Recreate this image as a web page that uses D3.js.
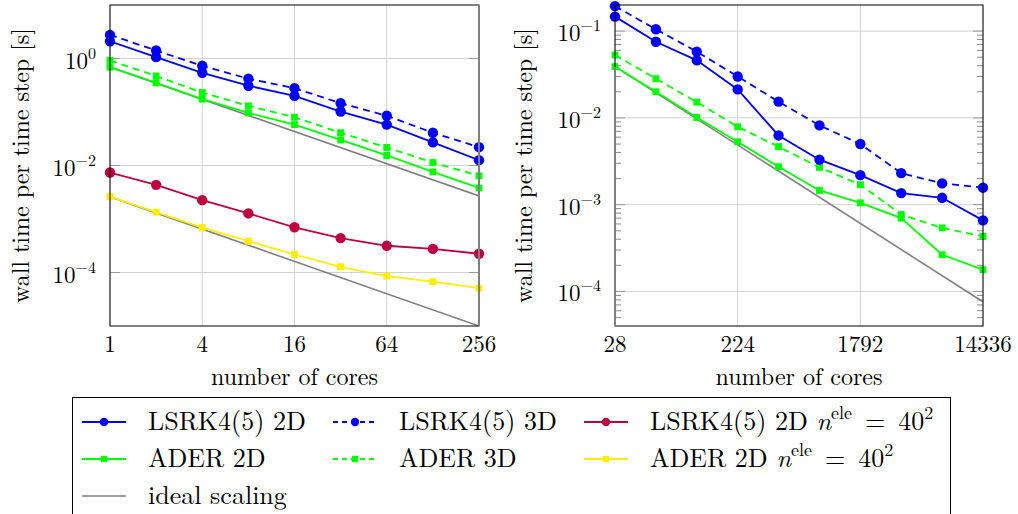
<!DOCTYPE html>
<html>
<head>
<meta charset="utf-8">
<script src="https://cdn.jsdelivr.net/npm/d3@7"></script>
<style>
    body { margin: 0; background: #fff; }
</style>
</head>
<body>
<svg id="chart" width="1018" height="514"></svg>
<script>
// left panel: 2D / 3D runs on up to 256 cores
const coresLeft = [1, 2, 4, 8, 16, 32, 64, 128, 256];
const lsrk2dLeft = [2.1, 1.06, 0.54, 0.31, 0.20, 0.102, 0.058, 0.027, 0.0126];
const lsrk3dLeft = [2.77, 1.41, 0.73, 0.42, 0.279, 0.146, 0.085, 0.041, 0.022];
const ader2dLeft = [0.69, 0.35, 0.174, 0.096, 0.058, 0.030, 0.0154, 0.0076, 0.0038];
const ader3dLeft = [0.92, 0.47, 0.231, 0.130, 0.080, 0.041, 0.0217, 0.0114, 0.0064];
const lsrkSmallLeft = [0.0074, 0.00435, 0.00225, 0.00127, 0.00070, 0.00044, 0.000316, 0.000277, 0.000224];
const aderSmallLeft = [0.0026, 0.00134, 0.00069, 0.000385, 0.000217, 0.000128, 0.0000853, 0.0000675, 0.0000509];
const idealLeftA = [[1, 0.69], [256, 0.0027]];
const idealLeftB = [[1, 0.0026], [256, 0.00001]];

// right panel: large runs, 28 .. 14336 cores
const coresRight = [28, 56, 112, 224, 448, 896, 1792, 3584, 7168, 14336];
const lsrk2dRight = [0.147, 0.0755, 0.046, 0.0213, 0.00628, 0.0033, 0.00219, 0.00136, 0.00120, 0.00066];
const lsrk3dRight = [0.194, 0.105, 0.058, 0.030, 0.0154, 0.0082, 0.0050, 0.00231, 0.00176, 0.00157];
const ader2dRight = [0.039, 0.020, 0.0101, 0.0053, 0.00274, 0.00146, 0.00105, 0.00070, 0.000265, 0.000178];
const ader3dRight = [0.053, 0.0283, 0.0152, 0.0079, 0.00466, 0.00269, 0.0017, 0.00077, 0.00054, 0.00043];
const idealRight = [[28, 0.039], [14336, 0.000076]];

const xTicksLeft = [1, 4, 16, 64, 256];
const yTicksLeft = [1, 0.01, 0.0001];
const xTicksRight = [28, 224, 1792, 14336];
const yTicksRight = [0.1, 0.01, 0.001, 0.0001];

const legendLabels = [
    'LSRK4(5) 2D', 'LSRK4(5) 3D', 'LSRK4(5) 2D n=40',
    'ADER 2D', 'ADER 3D', 'ADER 2D n=40',
    'ideal scaling'
];

const BLUE = '#0000ff', GREEN = '#00ff00', PURPLE = '#bf0040', YELLOW = '#ffee00', GRAY = '#808080';
const FONT = 'Latin Modern Roman';

const styles = {
    lsrk2d: {color: BLUE, dash: null, mark: 'circle'},
    lsrk3d: {color: BLUE, dash: '7,5', mark: 'circle'},
    lsrkSmall: {color: PURPLE, dash: null, mark: 'circle'},
    ader2d: {color: GREEN, dash: null, mark: 'square'},
    ader3d: {color: GREEN, dash: '7,5', mark: 'square'},
    aderSmall: {color: YELLOW, dash: null, mark: 'square'},
    ideal: {color: GRAY, dash: null, mark: null}
};

const svg = d3.select('#chart');

function drawMark(g, style, x, y, r) {
    if (style.mark === 'circle') {
        g.append('circle').attr('cx', x).attr('cy', y).attr('r', r).attr('fill', style.color);
    } else if (style.mark === 'square') {
        g.append('rect').attr('x', x - r * 0.75).attr('y', y - r * 0.75)
            .attr('width', r * 1.5).attr('height', r * 1.5).attr('fill', style.color);
    }
}

function powLabel(sel, v) {
    let e = Math.round(Math.log10(v));
    sel.append('tspan').text('10');
    sel.append('tspan').attr('dy', -10).attr('font-size', 16).text(e < 0 ? '\u2212' + (-e) : '' + e);
}

function drawPanel(cfg) {
    let x = d3.scaleLog().base(2).domain(cfg.xDomain).range([cfg.left, cfg.right]);
    let y = d3.scaleLog().domain(cfg.yDomain).range([cfg.bottom, cfg.top]);
    let g = svg.append('g');
    let clipId = 'clip' + cfg.id;

    g.append('clipPath').attr('id', clipId).append('rect')
        .attr('x', cfg.left).attr('y', cfg.top)
        .attr('width', cfg.right - cfg.left).attr('height', cfg.bottom - cfg.top);

    // grid
    g.selectAll('.vgrid').data(cfg.xTicks).enter().append('line')
        .attr('x1', d => x(d)).attr('x2', d => x(d))
        .attr('y1', cfg.top).attr('y2', cfg.bottom)
        .attr('stroke', '#d2d2d2').attr('stroke-width', 1);
    g.selectAll('.hgrid').data(cfg.yTicks).enter().append('line')
        .attr('x1', cfg.left).attr('x2', cfg.right)
        .attr('y1', d => y(d)).attr('y2', d => y(d))
        .attr('stroke', '#d2d2d2').attr('stroke-width', 1);

    // minor ticks on the y axis (only right panel)
    if (cfg.minor) {
        let minor = [];
        for (let e = -6; e < 2; e++) {
            for (let m = 2; m < 10; m++) {
                let v = m * Math.pow(10, e);
                if (v > cfg.yDomain[0] && v < cfg.yDomain[1]) minor.push(v);
            }
        }
        [[cfg.left, 1], [cfg.right, -1]].forEach(([ex, dir]) => {
            g.selectAll(null).data(minor).enter().append('line')
                .attr('x1', ex).attr('x2', ex + dir * 6)
                .attr('y1', d => y(d)).attr('y2', d => y(d))
                .attr('stroke', '#8a8a8a').attr('stroke-width', 1);
        });
    }
    // major ticks
    [[cfg.left, 1], [cfg.right, -1]].forEach(([ex, dir]) => {
        g.selectAll(null).data(cfg.yTicks).enter().append('line')
            .attr('x1', ex).attr('x2', ex + dir * 10)
            .attr('y1', d => y(d)).attr('y2', d => y(d))
            .attr('stroke', '#999').attr('stroke-width', 1);
    });

    let line = d3.line().x(d => x(d[0])).y(d => y(d[1]));
    let plot = g.append('g').attr('clip-path', `url(#${clipId})`);

    cfg.ideal.forEach(pts => {
        plot.append('path').attr('d', line(pts)).attr('fill', 'none')
            .attr('stroke', GRAY).attr('stroke-width', 1.6);
    });

    cfg.series.forEach(s => {
        let st = styles[s.key];
        let pts = cfg.cores.map((c, i) => [c, s.values[i]]);
        plot.append('path').attr('d', line(pts)).attr('fill', 'none')
            .attr('stroke', st.color).attr('stroke-width', 1.8)
            .attr('stroke-dasharray', st.dash);
    });
    cfg.series.forEach(s => {
        let st = styles[s.key];
        let mg = g.append('g');
        cfg.cores.forEach((c, i) => drawMark(mg, st, x(c), y(s.values[i]), st.mark === 'circle' ? 5.2 : 4.6));
    });

    // frame
    g.append('rect').attr('x', cfg.left).attr('y', cfg.top)
        .attr('width', cfg.right - cfg.left).attr('height', cfg.bottom - cfg.top)
        .attr('fill', 'none').attr('stroke', '#000').attr('stroke-width', 1);
    if (cfg.grayEdge) {
        g.append('line').attr('x1', cfg.grayEdge.x).attr('x2', cfg.grayEdge.x)
            .attr('y1', cfg.grayEdge.y1).attr('y2', cfg.bottom)
            .attr('stroke', GRAY).attr('stroke-width', 2);
    }

    // tick labels
    g.selectAll('.xl').data(cfg.xTicks).enter().append('text')
        .attr('font-family', FONT)
        .attr('x', d => x(d)).attr('y', cfg.bottom + 26)
        .attr('text-anchor', 'middle').attr('font-size', 23)
        .text(d => d);
    g.selectAll('.yl').data(cfg.yTicks).enter().append('text')
        .attr('font-family', FONT)
        .attr('x', cfg.left - 14).attr('y', d => y(d) + 10)
        .attr('text-anchor', 'end').attr('font-size', 23)
        .each(function(d) { powLabel(d3.select(this), d); });

    g.append('text').attr('font-family', FONT)
        .attr('x', (cfg.left + cfg.right) / 2).attr('y', 385)
        .attr('text-anchor', 'middle').attr('font-size', 24)
        .text('number of cores');
    g.append('text').attr('font-family', FONT)
        .attr('transform', `translate(${cfg.yLabelX},${(cfg.top + cfg.bottom) / 2}) rotate(-90)`)
        .attr('text-anchor', 'middle').attr('font-size', 24)
        .text('wall time per time step [s]');
}

drawPanel({
    id: 'L', left: 110, right: 479, top: 5, bottom: 326,
    xDomain: [1, 256], yDomain: [1e-5, 10],
    xTicks: xTicksLeft, yTicks: yTicksLeft, cores: coresLeft,
    yLabelX: 29, minor: false,
    grayEdge: {x: 479, y1: 5},
    ideal: [idealLeftA, idealLeftB],
    series: [
        {key: 'ader2d', values: ader2dLeft},
        {key: 'ader3d', values: ader3dLeft},
        {key: 'aderSmall', values: aderSmallLeft},
        {key: 'lsrkSmall', values: lsrkSmallLeft},
        {key: 'lsrk2d', values: lsrk2dLeft},
        {key: 'lsrk3d', values: lsrk3dLeft}
    ]
});

drawPanel({
    id: 'R', left: 615, right: 983, top: 5, bottom: 326,
    xDomain: [28, 14336], yDomain: [4e-5, 0.2],
    xTicks: xTicksRight, yTicks: yTicksRight, cores: coresRight,
    yLabelX: 532, minor: true,
    grayEdge: {x: 615, y1: 67},
    ideal: [idealRight],
    series: [
        {key: 'ader2d', values: ader2dRight},
        {key: 'ader3d', values: ader3dRight},
        {key: 'lsrk2d', values: lsrk2dRight},
        {key: 'lsrk3d', values: lsrk3dRight}
    ]
});

// legend
const legendKeys = ['lsrk2d', 'lsrk3d', 'lsrkSmall', 'ader2d', 'ader3d', 'aderSmall', 'ideal'];
const legendCols = [82, 333, 584];
const legendRows = [422, 459, 496];

let lg = svg.append('g');
lg.append('rect').attr('x', 72.5).attr('y', 397.5).attr('width', 878).attr('height', 130)
    .attr('fill', 'none').attr('stroke', '#000').attr('stroke-width', 1);

legendKeys.forEach((k, i) => {
    let st = styles[k];
    let cx = legendCols[i % 3], cy = legendRows[Math.floor(i / 3)];
    lg.append('line').attr('x1', cx).attr('x2', cx + 44).attr('y1', cy).attr('y2', cy)
        .attr('stroke', st.color).attr('stroke-width', k === 'ideal' ? 1.6 : 1.8)
        .attr('stroke-dasharray', st.dash ? '5,4' : null);
    drawMark(lg, st, cx + 22, cy, 4.2);

    let t = lg.append('text').attr('font-family', FONT)
        .attr('x', cx + 66).attr('y', cy + 8).attr('font-size', 26);
    let label = legendLabels[i];
    if (label.endsWith(' n=40')) {
        t.append('tspan').text(label.replace(' n=40', ' '));
        t.append('tspan').attr('font-style', 'italic').text('n');
        t.append('tspan').attr('dy', -11).attr('font-size', 18).text('ele');
        t.append('tspan').attr('dy', 11).text('\u00a0=\u00a040');
        t.append('tspan').attr('dy', -11).attr('font-size', 18).text('2');
    } else {
        t.text(label);
    }
});
</script>
</body>
</html>
